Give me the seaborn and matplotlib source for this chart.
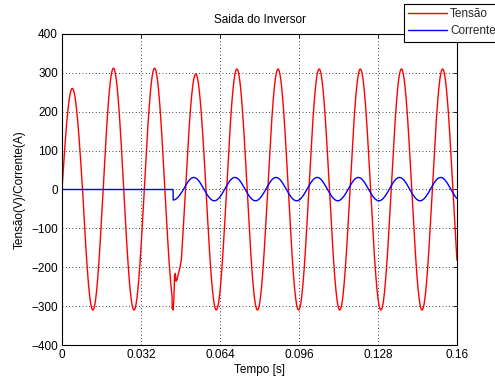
import numpy as np
import pandas as pd
import matplotlib
matplotlib.use("Agg")
import matplotlib.pyplot as plt
import seaborn as sns

# ---- data ----
freq_hz = 60.0
t_end = 0.16
# peak magnitude of each half-cycle of the voltage (even index = positive half)
volt_half_amps = [260, 310, 312, 310, 312, 308, 297, 310, 310, 310,
                  310, 310, 310, 310, 310, 310, 310, 310, 310, 310]
# disturbance of the voltage when the load current starts
glitch_t = [0.0446, 0.0450, 0.0453, 0.0456, 0.0459, 0.0462, 0.0466, 0.0472, 0.0478, 0.0484]
glitch_v = [-306, -310, -285, -220, -216, -236, -232, -215, -200, -177]
# current: zero until switch-on, then half-cycle peak magnitudes
current_on_t = 0.0450
current_lead_s = 0.0008
curr_half_amps = [0, 0, 0, 0, 0, 27, 31, 29, 31, 29,
                  31, 29, 31, 29, 31, 29, 31, 29, 31, 29]

xticks = [0, 0.032, 0.064, 0.096, 0.128, 0.16]
xticklabels = ["0", "0.032", "0.064", "0.096", "0.128", "0.16"]
yticks = [-400, -300, -200, -100, 0, 100, 200, 300, 400]

# ---- build the waveforms ----
t = np.linspace(0, t_end, 6001)
k = np.minimum((t * 2 * freq_hz).astype(int), len(volt_half_amps) - 1)
v = np.array(volt_half_amps)[k] * np.sin(2 * np.pi * freq_hz * t)
mask = (t >= glitch_t[0]) & (t <= glitch_t[-1])
tv = np.concatenate([t[~mask], glitch_t])
vv = np.concatenate([v[~mask], glitch_v])
order = np.argsort(tv)
tv, vv = tv[order], vv[order]

tl = t + current_lead_s
kc = np.minimum((tl * 2 * freq_hz).astype(int), len(curr_half_amps) - 1)
i_wave = np.array(curr_half_amps)[kc] * np.sin(2 * np.pi * freq_hz * tl)
i_wave[t < current_on_t] = 0.0
# insert the vertical step at switch-on
ti = np.concatenate([t, [current_on_t]])
ii = np.concatenate([i_wave, [0.0]])
order = np.lexsort((-np.abs(ii), ti))
ti, ii = ti[order], ii[order]

df_v = pd.DataFrame({"t": tv, "y": vv})
df_i = pd.DataFrame({"t": ti, "y": ii})

# ---- plot ----
sns.set_theme(style="white")
plt.rcParams["font.family"] = ["Liberation Sans", "DejaVu Sans"]
fs = 8.5

fig = plt.figure(figsize=(4.95, 3.81), dpi=100)
ax = fig.add_axes([62 / 495, 36 / 381, 395 / 495, 311 / 381])

sns.lineplot(data=df_v, x="t", y="y", color="#ff0000", lw=1.0, ax=ax,
             estimator=None, sort=False, label="Tensão")
sns.lineplot(data=df_i, x="t", y="y", color="#0000ff", lw=1.0, ax=ax,
             estimator=None, sort=False, label="Corrente")

ax.set_xlim(0, t_end)
ax.set_ylim(-400, 400)
ax.set_xticks(xticks)
ax.set_xticklabels(xticklabels)
ax.set_yticks(yticks)
ax.tick_params(direction="in", length=3, width=0.6, labelsize=fs, colors="black",
               top=True, right=True, pad=3)
ax.grid(True, color="black", linestyle=(0, (1, 3)), linewidth=0.6)
for s in ax.spines.values():
    s.set_color("black")
    s.set_linewidth(0.8)

ax.set_title("Saida do Inversor", fontsize=fs, color="black", pad=8)
ax.set_xlabel("Tempo [s]", fontsize=fs, color="black", labelpad=2)
ax.set_ylabel("Tensão(V)/Corrente(A)", fontsize=fs, color="black", labelpad=4)

handles, labels = ax.get_legend_handles_labels()
ax.get_legend().remove()
leg = fig.legend(handles, labels, loc="upper left",
                 bbox_to_anchor=(404 / 495, 1 - 4 / 381), bbox_transform=fig.transFigure,
                 fontsize=fs, frameon=True, fancybox=False, framealpha=1,
                 edgecolor="black", handlelength=3.3, handletextpad=0.25,
                 labelspacing=0.45, borderpad=0.35, borderaxespad=0)
leg.get_frame().set_linewidth(0.8)

fig.savefig("out.png", dpi=100)
